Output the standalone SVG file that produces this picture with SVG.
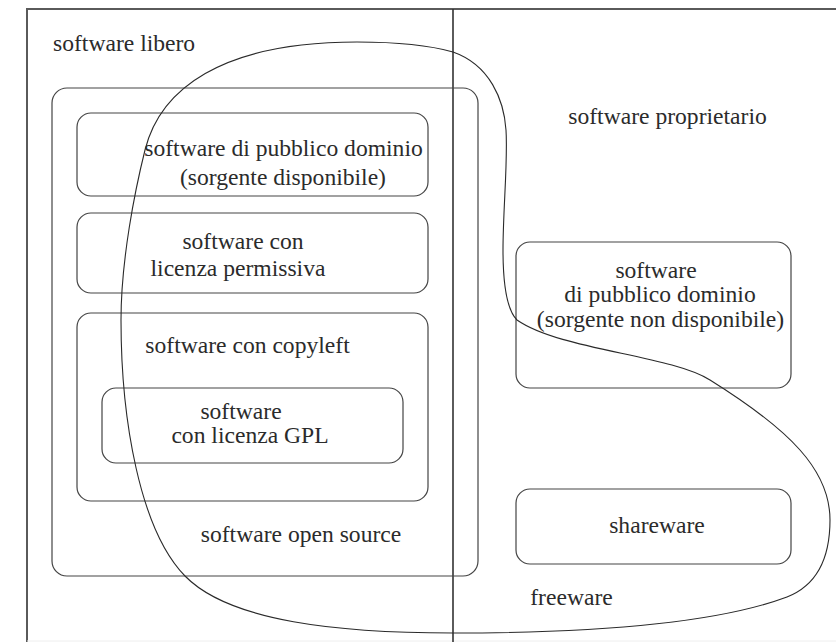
<svg xmlns="http://www.w3.org/2000/svg" width="836" height="642" viewBox="0 0 836 642">
  <style>
    .frame { fill: none; stroke: #5a5a5a; stroke-width: 2; }
    .divider { fill: none; stroke: #333; stroke-width: 1.6; }
    .box { fill: none; stroke: #444; stroke-width: 1.2; }
    .curve { fill: none; stroke: #2a2a2a; stroke-width: 1.1; }
    text { font-family: "Liberation Serif", "Times New Roman", serif; font-size: 23.6px; fill: #2b2b2b; }
    .c { text-anchor: middle; }
  </style>
  <rect width="836" height="642" fill="#ffffff"/>

  <!-- page frame and the free / proprietary split -->
  <g id="frame">
    <path class="frame" d="M27,642 V9 H836"/>
    <path d="M27,641 H836" fill="none" stroke="#eeeeee" stroke-width="1"/>
    <line class="divider" x1="453" y1="9" x2="453" y2="642"/>
  </g>

  <g id="software-libero">
    <text x="53" y="51">software libero</text>
  </g>

  <g id="software-proprietario">
    <text class="c" x="667.5" y="124">software proprietario</text>
  </g>

  <g id="open-source">
    <rect class="box" x="52" y="88" width="426" height="488" rx="15"/>
    <text class="c" x="301" y="542">software open source</text>
  </g>

  <g id="pubblico-dominio-libero">
    <rect class="box" x="77" y="113" width="351" height="83" rx="14"/>
    <text class="c" x="283.5" y="156">software di pubblico dominio</text>
    <text class="c" x="283" y="185">(sorgente disponibile)</text>
  </g>

  <g id="licenza-permissiva">
    <rect class="box" x="77" y="213" width="351" height="80" rx="14"/>
    <text class="c" x="243" y="249">software con</text>
    <text class="c" x="238" y="275.5">licenza permissiva</text>
  </g>

  <g id="copyleft">
    <rect class="box" x="77" y="313" width="351" height="188" rx="14"/>
    <text class="c" x="247.5" y="353">software con copyleft</text>
  </g>

  <g id="licenza-gpl">
    <rect class="box" x="102" y="388" width="301" height="75" rx="14"/>
    <text class="c" x="241" y="419">software</text>
    <text class="c" x="250" y="443">con licenza GPL</text>
  </g>

  <g id="pubblico-dominio-chiuso">
    <rect class="box" x="516" y="242" width="275" height="146" rx="14"/>
    <text class="c" x="656" y="278">software</text>
    <text class="c" x="660" y="302">di pubblico dominio</text>
    <text class="c" x="660.5" y="327">(sorgente non disponibile)</text>
  </g>

  <g id="shareware">
    <rect class="box" x="516" y="489" width="275" height="75" rx="14"/>
    <text class="c" x="657" y="533">shareware</text>
  </g>

  <!-- closed outline enclosing everything distributed free of charge -->
  <g id="freeware">
    <path class="curve" d="M357,42
      C220,42 160,90 145,150
      C135,190 121,260 121,320
      C121,420 140,530 185,576
      C230,622 340,633 453,633
      C600,633 720,622 787,597
      C815,586 830,560 830,520
      C830,470 790,430 710,380
      C670,355 560,350 517,320
      C507,310 503,285 503,250
      C503,210 508,160 506,130
      C504,100 490,65 453,52
      C425,44 395,42 357,42 Z"/>
    <text class="c" x="571.5" y="605">freeware</text>
  </g>

  <g id="connectors"/>
</svg>
